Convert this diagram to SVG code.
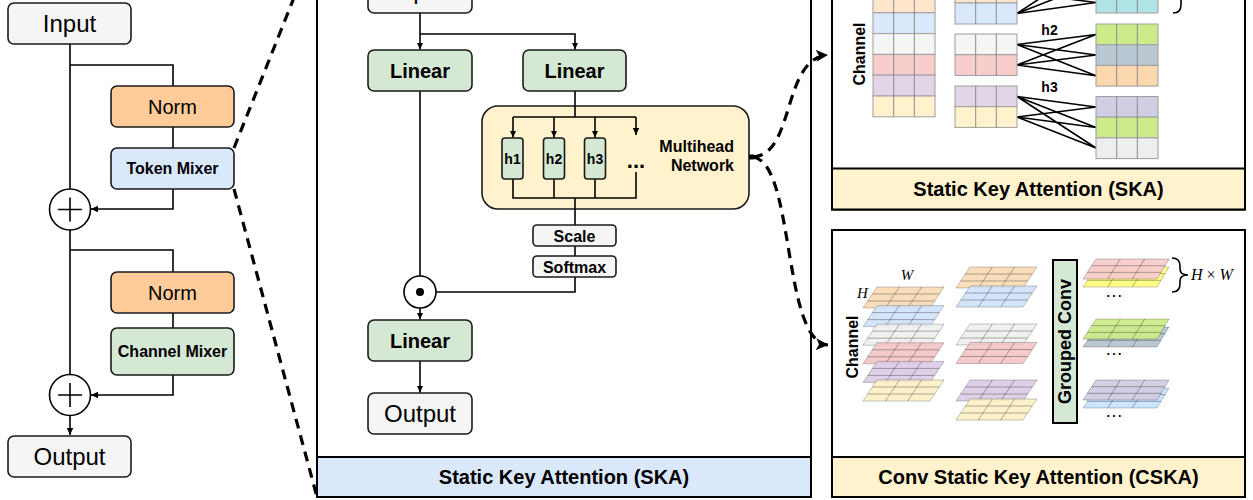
<svg xmlns="http://www.w3.org/2000/svg" xmlns:xlink="http://www.w3.org/1999/xlink" width="1253" height="500" viewBox="0 0 1253 500">
<style>
text{font-family:'Liberation Sans',Arial,sans-serif;fill:#000}
.box{stroke:#1a1a1a;stroke-width:1.6}
.gray{fill:#f5f5f5}.org{fill:#ffcc99}.blu{fill:#dae8fc}.grn{fill:#d5e8d4}.yel{fill:#fff2cc}
.ln{fill:none;stroke:#000;stroke-width:1.6}
.dash{fill:none;stroke:#000;stroke-width:3.2;stroke-dasharray:10 7}
.panel{fill:#fff;stroke:#000;stroke-width:2}
.band{stroke:#000;stroke-width:2}
.reg{font-size:20px}
.big{font-size:24px}
.b16{font-size:16px;font-weight:bold}
.b20{font-size:20px;font-weight:bold}
.hl{font-size:14px;font-weight:bold}
.cell{stroke:#9e9e9e;stroke-width:1}
.vl{stroke:#8a8a8a;stroke-width:1}
.fan{fill:none;stroke:#000;stroke-width:1.6}
.slab{stroke:#000;stroke-opacity:0.22;stroke-width:1}
.grid{fill:none;stroke:#000;stroke-opacity:0.3;stroke-width:1}
.math{font-family:'Liberation Serif','Times New Roman',serif;font-style:italic}
</style>
<defs>
<marker id="ar" markerUnits="userSpaceOnUse" markerWidth="8" markerHeight="8" refX="7" refY="4" orient="auto">
<path d="M0,0.8 L7,4 L0,7.2 Z" fill="#000"/>
</marker>
<marker id="arB" markerUnits="userSpaceOnUse" markerWidth="14" markerHeight="14" refX="12" refY="6" orient="auto">
<path d="M0,0 L12,6 L0,12 L3,6 Z" fill="#000"/>
</marker>
<path id="slab" d="M14,0 H81 L67,21 H0 Z"/>
<path id="grid" d="M9.33,7 H76.33 M4.67,14 H71.67 M36.33,0 L22.33,21 M58.67,0 L44.67,21"/>
<path id="slab3" d="M13,0 H86 L74,20 H0 Z"/>
<path id="grid3" d="M8.67,6.67 H82 M4.33,13.33 H78 M37.33,0 L24.67,20 M61.67,0 L49.33,20"/>
</defs>

<!-- Panels -->
<g id="panel-ska-mid">
<rect class="panel" x="317" y="-50" width="494" height="547"/>
<rect class="band blu" x="317" y="457" width="494" height="40"/>
<text class="b20" x="564" y="484" text-anchor="middle">Static Key Attention (SKA)</text>
</g>
<g id="panel-ska">
<rect class="panel" x="832" y="-50" width="413" height="259.5"/>
<rect class="band yel" x="832" y="168.5" width="413" height="41"/>
<text class="b20" x="1038.5" y="196" text-anchor="middle">Static Key Attention (SKA)</text>
</g>
<g id="panel-cska">
<rect class="panel" x="832" y="230" width="413" height="267"/>
<rect class="band yel" x="832" y="457" width="413" height="40"/>
<text class="b20" x="1038.5" y="484" text-anchor="middle">Conv Static Key Attention (CSKA)</text>
</g>

<g id="multihead">
<rect class="box yel" x="482" y="106" width="267" height="103" rx="16"/>
<text x="636" y="168" text-anchor="middle" font-size="22" font-weight="bold">...</text>
<text class="b16" x="734" y="152" text-anchor="end">Multihead</text>
<text class="b16" x="734" y="171" text-anchor="end">Network</text>
</g>

<!-- Connectors -->
<g id="connectors">
<!-- left column -->
<path class="ln" d="M70,44 V189"/>
<path class="ln" d="M70,65 H173 V86"/>
<path class="ln" d="M173,127 V148"/>
<path class="ln" d="M173,189 V209 H91" marker-end="url(#ar)"/>
<path class="ln" d="M70,230 V375"/>
<path class="ln" d="M70,250 H173 V272"/>
<path class="ln" d="M173,313 V328"/>
<path class="ln" d="M173,375 V395 H91" marker-end="url(#ar)"/>
<path class="ln" d="M70,415 V435" marker-end="url(#ar)"/>
<!-- middle -->
<path class="ln" d="M420,13 V49.5" marker-end="url(#ar)"/>
<path class="ln" d="M420,34 H575 V49.5" marker-end="url(#ar)"/>
<path class="ln" d="M420,91 V276"/>
<path class="ln" d="M420,308 V319.5" marker-end="url(#ar)"/>
<path class="ln" d="M420,361 V392.5" marker-end="url(#ar)"/>
<path class="ln" d="M575,91 V117"/>
<path class="ln" d="M513,117 H636"/>
<path class="ln" d="M513,117 V137.5" marker-end="url(#ar)"/>
<path class="ln" d="M554,117 V137.5" marker-end="url(#ar)"/>
<path class="ln" d="M595,117 V137.5" marker-end="url(#ar)"/>
<path class="ln" d="M636,117 V135" marker-end="url(#ar)"/>
<path class="ln" d="M513,179 V198 H636 V172"/>
<path class="ln" d="M554,179 V198"/>
<path class="ln" d="M595,179 V198"/>
<path class="ln" d="M575,198 V225"/>
<path class="ln" d="M575,246 V256"/>
<path class="ln" d="M575,277 V292 H436"/>
<!-- dashed zoom lines -->
<path class="dash" d="M234,148 L317,-60"/>
<path class="dash" d="M234,189 L317,497"/>
<path class="dash" d="M753,157 C795,155 782,58 828,55" marker-end="url(#arB)"/>
<path class="dash" d="M753,157 C795,162 782,342 828,345" marker-end="url(#arB)"/>
<path d="M749,154.5 H753 A2.5,2.5 0 0 1 753,159.5 H749 Z" fill="#000"/>
<!-- SKA fan lines -->
<path class="fan" d="M1017,-7.5 L1096,-38.5 M1017,-7.5 L1096,-17.5 M1017,-7.5 L1096,2.5 M1017,13.5 L1096,-38.5 M1017,13.5 L1096,-17.5 M1017,13.5 L1096,2.5"/>
<path class="fan" d="M1017,44.5 L1096,34.5 M1017,44.5 L1096,55 M1017,44.5 L1096,75.7 M1017,65 L1096,34.5 M1017,65 L1096,55 M1017,65 L1096,75.7"/>
<path class="fan" d="M1017,96.5 L1096,107 M1017,96.5 L1096,127.5 M1017,96.5 L1096,148 M1017,117 L1096,107 M1017,117 L1096,127.5 M1017,117 L1096,148"/>
</g>

<!-- Left column nodes -->
<g id="input-left">
<rect class="box gray" x="8" y="3" width="123" height="41" rx="6"/>
<text class="big" x="69.5" y="32" text-anchor="middle">Input</text>
</g>
<g id="norm1">
<rect class="box org" x="111" y="86" width="123" height="41" rx="6"/>
<text class="reg" x="172.5" y="113.5" text-anchor="middle">Norm</text>
</g>
<g id="token-mixer">
<rect class="box blu" x="111" y="148" width="123" height="41" rx="6"/>
<text class="b16" x="172.5" y="174" text-anchor="middle">Token Mixer</text>
</g>
<g id="add1">
<circle cx="70" cy="209.5" r="20.5" fill="#fff" stroke="#000" stroke-width="1.6"/>
<path class="ln" d="M58,209.5 H82 M70,197.5 V221.5"/>
</g>
<g id="norm2">
<rect class="box org" x="111" y="272" width="123" height="41" rx="6"/>
<text class="reg" x="172.5" y="299.5" text-anchor="middle">Norm</text>
</g>
<g id="channel-mixer">
<rect class="box grn" x="111" y="328" width="123" height="47" rx="6"/>
<text class="b16" x="172.5" y="357" text-anchor="middle">Channel Mixer</text>
</g>
<g id="add2">
<circle cx="70" cy="395" r="20.5" fill="#fff" stroke="#000" stroke-width="1.6"/>
<path class="ln" d="M58,395 H82 M70,383 V407"/>
</g>
<g id="output-left">
<rect class="box gray" x="8" y="436" width="123" height="41" rx="6"/>
<text class="big" x="69.5" y="465" text-anchor="middle">Output</text>
</g>

<!-- Middle nodes -->
<g id="input-mid">
<rect class="box gray" x="368" y="-28" width="104" height="41" rx="6"/>
<text class="big" x="420" y="-1" text-anchor="middle">Input</text>
</g>
<g id="linear1">
<rect class="box grn" x="368" y="50" width="104" height="41" rx="6"/>
<text class="b20" x="420" y="77.5" text-anchor="middle">Linear</text>
</g>
<g id="linear2">
<rect class="box grn" x="523" y="50" width="103" height="41" rx="6"/>
<text class="b20" x="574.5" y="77.5" text-anchor="middle">Linear</text>
</g>
<g id="head1">
<rect class="box grn" x="502" y="138" width="21" height="41" rx="3"/>
<text class="hl" x="512.5" y="163.5" text-anchor="middle">h1</text>
</g>
<g id="head2">
<rect class="box grn" x="543.5" y="138" width="21" height="41" rx="3"/>
<text class="hl" x="554" y="163.5" text-anchor="middle">h2</text>
</g>
<g id="head3">
<rect class="box grn" x="584.5" y="138" width="21" height="41" rx="3"/>
<text class="hl" x="595" y="163.5" text-anchor="middle">h3</text>
</g>
<g id="scale">
<rect class="box gray" x="533" y="225" width="83" height="21" rx="4"/>
<text class="b16" x="574.5" y="241.5" text-anchor="middle">Scale</text>
</g>
<g id="softmax">
<rect class="box gray" x="533" y="256" width="83" height="21" rx="4"/>
<text class="b16" x="574.5" y="272.5" text-anchor="middle">Softmax</text>
</g>
<g id="odot">
<circle cx="420" cy="292" r="16" fill="#fff" stroke="#000" stroke-width="1.6"/>
<circle cx="420" cy="292" r="4" fill="#000"/>
</g>
<g id="linear3">
<rect class="box grn" x="368" y="320" width="104" height="41" rx="6"/>
<text class="b20" x="420" y="347.5" text-anchor="middle">Linear</text>
</g>
<g id="output-mid">
<rect class="box gray" x="368" y="393" width="104" height="41" rx="6"/>
<text class="big" x="420" y="422" text-anchor="middle">Output</text>
</g>

<!-- SKA detail -->
<g id="ska-channels">
<text class="b16" transform="translate(865,54) rotate(-90)" text-anchor="middle">Channel</text>
<rect class="cell" x="873" y="-8" width="62" height="20.8" fill="#ffe6cc"/>
<rect class="cell" x="873" y="12.8" width="62" height="20.8" fill="#dae8fc"/>
<rect class="cell" x="873" y="33.6" width="62" height="20.8" fill="#f5f5f5"/>
<rect class="cell" x="873" y="54.4" width="62" height="20.8" fill="#f8cecc"/>
<rect class="cell" x="873" y="75.2" width="62" height="20.8" fill="#e1d5e7"/>
<rect class="cell" x="873" y="96" width="62" height="20.8" fill="#fff2cc"/>
<path class="vl" d="M893.7,-8 V116.8 M914.3,-8 V116.8"/>
</g>
<g id="ska-groups">
<rect class="cell" x="955" y="-18" width="62" height="21" fill="#ffe6cc"/>
<rect class="cell" x="955" y="3" width="62" height="21" fill="#dae8fc"/>
<path class="vl" d="M975.7,-18 V24 M996.3,-18 V24"/>
<rect class="cell" x="955" y="34" width="62" height="20.7" fill="#f5f5f5"/>
<rect class="cell" x="955" y="54.7" width="62" height="20.7" fill="#f8cecc"/>
<path class="vl" d="M975.7,34 V75.4 M996.3,34 V75.4"/>
<rect class="cell" x="955" y="86" width="62" height="20.7" fill="#e1d5e7"/>
<rect class="cell" x="955" y="106.7" width="62" height="20.7" fill="#fff2cc"/>
<path class="vl" d="M975.7,86 V127.4 M996.3,86 V127.4"/>
<text x="1049.5" y="35" text-anchor="middle" font-size="14" font-weight="bold">h2</text>
<text x="1049.5" y="92" text-anchor="middle" font-size="14" font-weight="bold">h3</text>
</g>
<g id="ska-outputs">
<rect class="cell" x="1096" y="-8" width="62" height="21" fill="#b0e3e6"/>
<path class="vl" d="M1116.7,-8 V13 M1137.3,-8 V13"/>
<rect class="cell" x="1096" y="24" width="62" height="20.7" fill="#cdeb8b"/>
<rect class="cell" x="1096" y="44.7" width="62" height="20.7" fill="#bac8d3"/>
<rect class="cell" x="1096" y="65.4" width="62" height="20.7" fill="#fad7ac"/>
<path class="vl" d="M1116.7,24 V86.1 M1137.3,24 V86.1"/>
<rect class="cell" x="1096" y="96.5" width="62" height="20.7" fill="#d0cee2"/>
<rect class="cell" x="1096" y="117.2" width="62" height="20.7" fill="#cdeb8b"/>
<rect class="cell" x="1096" y="137.9" width="62" height="20.7" fill="#eeeeee"/>
<path class="vl" d="M1116.7,96.5 V158.6 M1137.3,96.5 V158.6"/>
<path class="ln" stroke-width="2" d="M1173,-49 Q1181,-49 1181,-41 L1181,-24 Q1181,-18 1188,-18 Q1181,-18 1181,-12 L1181,5 Q1181,13 1173,13"/>
</g>

<!-- CSKA detail -->
<g id="cska-channels">
<text class="b16" transform="translate(858,347) rotate(-90)" text-anchor="middle">Channel</text>
<text class="math" x="907" y="280" text-anchor="middle" font-size="15">W</text>
<text class="math" x="857" y="298" font-size="15">H</text>
<use href="#slab" x="863" y="287" class="slab" fill="#fad9b3" fill-opacity="0.9"/>
<use href="#grid" x="863" y="287" class="grid"/>
<use href="#slab" x="863" y="305.6" class="slab" fill="#cfe1fa" fill-opacity="0.9"/>
<use href="#grid" x="863" y="305.6" class="grid"/>
<use href="#slab" x="863" y="324.2" class="slab" fill="#eeeeee" fill-opacity="0.9"/>
<use href="#grid" x="863" y="324.2" class="grid"/>
<use href="#slab" x="863" y="342.8" class="slab" fill="#f4c4c4" fill-opacity="0.9"/>
<use href="#grid" x="863" y="342.8" class="grid"/>
<use href="#slab" x="863" y="361.4" class="slab" fill="#dacbe4" fill-opacity="0.9"/>
<use href="#grid" x="863" y="361.4" class="grid"/>
<use href="#slab" x="863" y="380" class="slab" fill="#fdefc6" fill-opacity="0.9"/>
<use href="#grid" x="863" y="380" class="grid"/>
</g>
<g id="cska-groups">
<use href="#slab" x="956" y="267" class="slab" fill="#fad9b3" fill-opacity="0.9"/>
<use href="#grid" x="956" y="267" class="grid"/>
<use href="#slab" x="956" y="286" class="slab" fill="#cfe1fa" fill-opacity="0.9"/>
<use href="#grid" x="956" y="286" class="grid"/>
<use href="#slab" x="956" y="324" class="slab" fill="#eeeeee" fill-opacity="0.9"/>
<use href="#grid" x="956" y="324" class="grid"/>
<use href="#slab" x="956" y="342.5" class="slab" fill="#f4c4c4" fill-opacity="0.9"/>
<use href="#grid" x="956" y="342.5" class="grid"/>
<use href="#slab" x="956" y="380" class="slab" fill="#dacbe4" fill-opacity="0.9"/>
<use href="#grid" x="956" y="380" class="grid"/>
<use href="#slab" x="956" y="399" class="slab" fill="#fdefc6" fill-opacity="0.9"/>
<use href="#grid" x="956" y="399" class="grid"/>
</g>
<g id="grouped-conv">
<rect x="1053" y="260" width="24" height="163" fill="#d5e8d4" stroke="#000" stroke-width="2"/>
<text transform="translate(1065,341.5) rotate(-90)" text-anchor="middle" dominant-baseline="central" font-size="18" font-weight="bold">Grouped Conv</text>
</g>
<g id="cska-outputs">
<use href="#slab3" x="1083" y="267" class="slab" fill="#ffff88"/>
<use href="#grid3" x="1083" y="267" class="grid"/>
<use href="#slab3" x="1083" y="259" class="slab" fill="#f8cecc" fill-opacity="0.95"/>
<use href="#grid3" x="1083" y="259" class="grid"/>
<text x="1114" y="297" text-anchor="middle" font-size="18">…</text>
<use href="#slab3" x="1083" y="327" class="slab" fill="#bac8d3"/>
<use href="#grid3" x="1083" y="327" class="grid"/>
<use href="#slab3" x="1083" y="319" class="slab" fill="#cdeb8b" fill-opacity="0.95"/>
<use href="#grid3" x="1083" y="319" class="grid"/>
<text x="1114" y="355" text-anchor="middle" font-size="18">…</text>
<use href="#slab3" x="1083" y="388" class="slab" fill="#cce5ff"/>
<use href="#grid3" x="1083" y="388" class="grid"/>
<use href="#slab3" x="1083" y="380" class="slab" fill="#d0cee2" fill-opacity="0.95"/>
<use href="#grid3" x="1083" y="380" class="grid"/>
<text x="1114" y="417" text-anchor="middle" font-size="18">…</text>
<path class="ln" stroke-width="2" d="M1172,258 Q1180,258 1180,266 L1180,269 Q1180,275 1188,275 Q1180,275 1180,281 L1180,284 Q1180,292 1172,292"/>
<text class="math" x="1191" y="280" font-size="16">H <tspan font-style="normal">×</tspan> W</text>
</g>
</svg>
